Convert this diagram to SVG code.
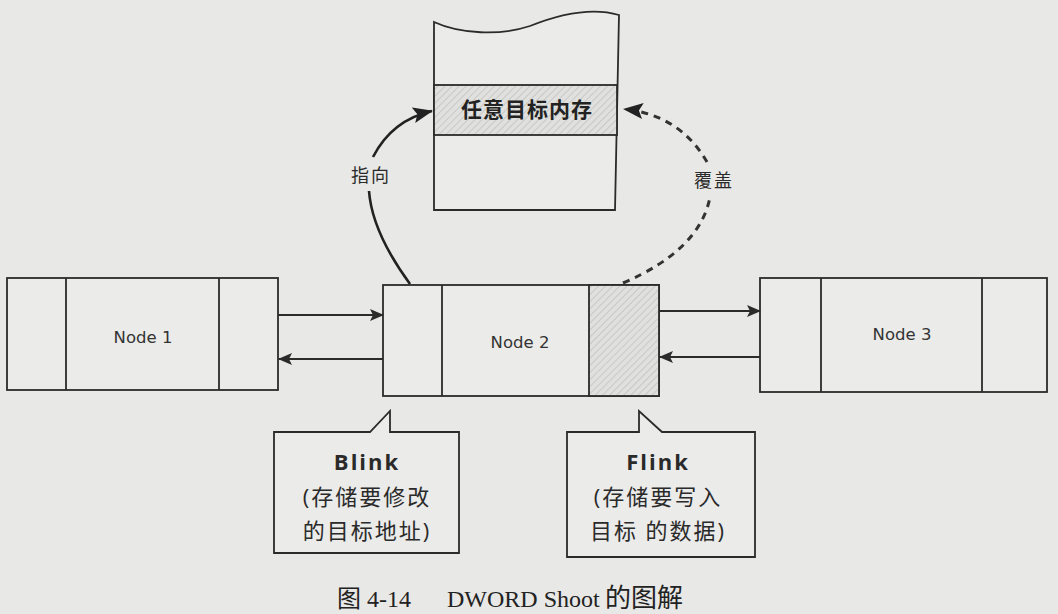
<svg xmlns="http://www.w3.org/2000/svg" width="1058" height="614" viewBox="0 0 1058 614">
  <style>
    .box { fill: none; stroke: #2b2b2b; stroke-width: 1.8; }
    .cell { fill: #ebebe9; stroke: #2b2b2b; stroke-width: 1.8; }
    .hatch { fill: url(#hatch); stroke: #2b2b2b; stroke-width: 1.8; }
    .wire { fill: none; stroke: #2b2b2b; stroke-width: 1.8; }
    .curve { fill: none; stroke: #222; stroke-width: 2.6; }
    .dash { fill: none; stroke: #333; stroke-width: 3; stroke-dasharray: 7 6; }
    .node { font-family: "DejaVu Sans", "Liberation Sans", sans-serif; font-size: 16.5px; fill: #333; text-anchor: middle; }
    .cjk { font-family: "Noto Sans CJK SC", sans-serif; font-size: 18px; fill: #2a2a2a; text-anchor: middle; letter-spacing: 2px; }
    .title { font-family: "Noto Sans CJK SC", sans-serif; font-size: 21px; font-weight: bold; fill: #222; text-anchor: middle; letter-spacing: 1px; }
    .note { font-family: "Open Sans", "Noto Sans CJK SC", sans-serif; font-size: 22px; fill: #2a2a2a; text-anchor: middle; letter-spacing: 2px; }
    .caption { font-family: "Liberation Serif", "Noto Sans CJK SC", serif; font-size: 24px; fill: #222; }
  </style>
  <defs>
    <pattern id="hatch" width="5" height="5" patternUnits="userSpaceOnUse" patternTransform="rotate(45)">
      <rect width="5" height="5" fill="#e0e0de"/>
      <line x1="0" y1="0" x2="0" y2="5" stroke="#b8b8b6" stroke-width="1.2"/>
    </pattern>
    <marker id="arrow" viewBox="0 0 14 12" refX="13" refY="6" markerWidth="14" markerHeight="12" markerUnits="userSpaceOnUse" orient="auto">
      <path d="M0 0 L14 6 L0 12 L3 6 Z" fill="#2b2b2b"/>
    </marker>
    <marker id="bigArrow" viewBox="0 0 20 16" refX="19" refY="8" markerWidth="20" markerHeight="16" markerUnits="userSpaceOnUse" orient="auto">
      <path d="M0 0 L20 8 L0 16 L4 8 Z" fill="#222"/>
    </marker>
  </defs>

  <!-- paper -->
  <rect width="1058" height="614" fill="#e8e8e6"/>

  <!-- target memory block -->
  <g id="memory">
    <path class="cell" d="M434 22 C 460 34, 500 36, 530 26 C 565 12, 595 8, 619 15 L 615 210 L 434 210 Z"/>
    <rect class="hatch" x="434" y="85" width="183" height="50"/>
    <text class="title" x="527" y="117">任意目标内存</text>
  </g>

  <!-- list nodes -->
  <g id="node1">
    <rect class="cell" x="7" y="278" width="271" height="112"/>
    <line class="box" x1="66" y1="278" x2="66" y2="390"/>
    <line class="box" x1="219" y1="278" x2="219" y2="390"/>
    <text class="node" x="143" y="343">Node 1</text>
  </g>

  <g id="node2">
    <rect class="cell" x="383" y="285" width="276" height="111"/>
    <rect class="hatch" x="589" y="285" width="70" height="111"/>
    <line class="box" x1="442" y1="285" x2="442" y2="396"/>
    <text class="node" x="520" y="348">Node 2</text>
  </g>

  <g id="node3">
    <rect class="cell" x="760" y="278" width="287" height="114"/>
    <line class="box" x1="821" y1="278" x2="821" y2="392"/>
    <line class="box" x1="982" y1="278" x2="982" y2="392"/>
    <text class="node" x="902" y="340">Node 3</text>
  </g>

  <!-- callouts -->
  <g id="blink">
    <path class="cell" d="M274 432 L370 432 L390 411 L390 432 L459 432 L459 553 L274 553 Z"/>
    <text class="note" x="367" y="470" font-weight="bold">Blink</text>
    <text class="note" x="367" y="505">(存储要修改</text>
    <text class="note" x="367" y="539">的目标地址)</text>
  </g>

  <g id="flink">
    <path class="cell" d="M567 432 L639 432 L639 411 L662 432 L755 432 L755 557 L567 557 Z"/>
    <text class="note" x="658" y="470" font-weight="bold">Flink</text>
    <text class="note" x="658" y="505">(存储要写入</text>
    <text class="note" x="658" y="539">目标 的数据)</text>
  </g>

  <!-- connectors -->
  <g id="connectors">
    <line class="wire" x1="278" y1="315" x2="383" y2="315" marker-end="url(#arrow)"/>
    <line class="wire" x1="383" y1="359" x2="279" y2="359" marker-end="url(#arrow)"/>
    <line class="wire" x1="659" y1="311" x2="760" y2="311" marker-end="url(#arrow)"/>
    <line class="wire" x1="760" y1="357" x2="660" y2="357" marker-end="url(#arrow)"/>

    <!-- Blink points at the target -->
    <path class="curve" d="M410 284 Q 372 232 369 191"/>
    <path class="curve" d="M373 157 Q 392 120 432 111" marker-end="url(#bigArrow)"/>
    <text class="cjk" x="371" y="182">指向</text>

    <!-- Flink data overwrites the target -->
    <path class="dash" d="M623 283 Q 700 250 710 197"/>
    <path class="dash" d="M707 162 Q 680 115 624 109" marker-end="url(#bigArrow)"/>
    <text class="cjk" x="714" y="187">覆盖</text>
  </g>

  <!-- figure caption -->
  <text class="caption" y="607"><tspan x="337">图 4-14</tspan><tspan x="447">DWORD Shoot</tspan><tspan x="605" font-size="26">的图解</tspan></text>
</svg>
